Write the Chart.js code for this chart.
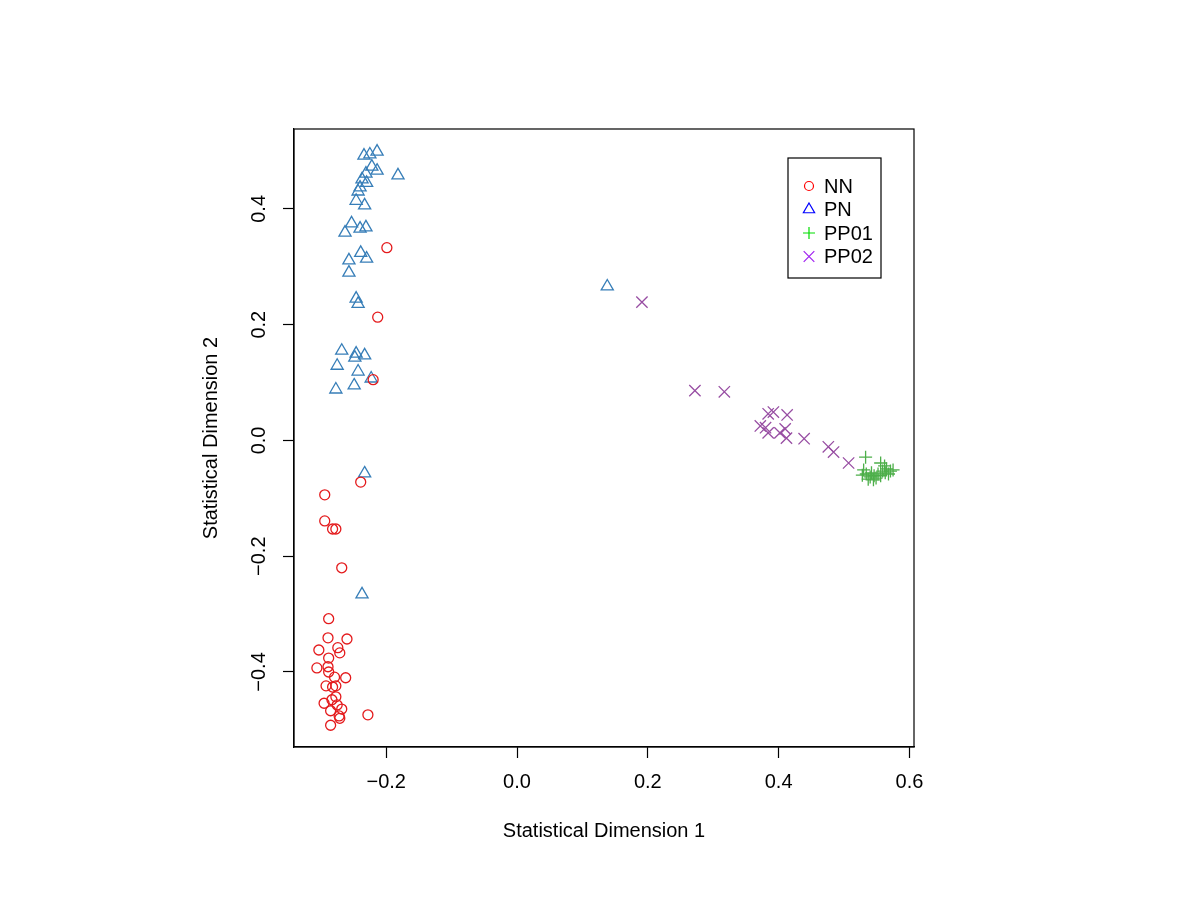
<!DOCTYPE html>
<html>
<head>
<meta charset="utf-8">
<title>Statistical Dimensions</title>
<script src="https://cdn.jsdelivr.net/npm/chart.js@4/dist/chart.umd.min.js"></script>
<style>
  body { margin: 0; background: #fff; }
  canvas { display: block; }
</style>
</head>
<body>
<canvas id="mdsChart" width="1200" height="900"></canvas>
<script>
// values
const seriesNames = ['NN', 'PN', 'PP01', 'PP02'];
const xTicks = [-0.2, 0.0, 0.2, 0.4, 0.6];
const yTicks = [-0.4, -0.2, 0.0, 0.2, 0.4];

const nnPoints = [
    [-0.199, 0.333], [-0.213, 0.213], [-0.220, 0.105], [-0.239, -0.072],
    [-0.294, -0.094], [-0.294, -0.139], [-0.282, -0.153], [-0.277, -0.153],
    [-0.268, -0.220], [-0.288, -0.308], [-0.289, -0.341], [-0.260, -0.343],
    [-0.303, -0.362], [-0.274, -0.358], [-0.271, -0.367], [-0.288, -0.376],
    [-0.306, -0.393], [-0.289, -0.391], [-0.288, -0.400], [-0.279, -0.409],
    [-0.262, -0.410], [-0.292, -0.424], [-0.282, -0.426], [-0.277, -0.424],
    [-0.277, -0.443], [-0.295, -0.454], [-0.283, -0.448], [-0.275, -0.457],
    [-0.268, -0.464], [-0.285, -0.467], [-0.272, -0.476], [-0.271, -0.480],
    [-0.228, -0.474], [-0.285, -0.492]
];

const pnPoints = [
    [-0.234, 0.492], [-0.225, 0.494], [-0.214, 0.499], [-0.222, 0.473],
    [-0.214, 0.466], [-0.182, 0.458], [-0.231, 0.461], [-0.237, 0.451],
    [-0.230, 0.445], [-0.240, 0.437], [-0.243, 0.430], [-0.246, 0.414],
    [-0.233, 0.406], [-0.253, 0.375], [-0.263, 0.359], [-0.240, 0.366],
    [-0.231, 0.368], [-0.239, 0.324], [-0.257, 0.311], [-0.230, 0.314],
    [-0.257, 0.290], [-0.246, 0.245], [-0.243, 0.236], [-0.268, 0.155],
    [-0.246, 0.150], [-0.248, 0.143], [-0.233, 0.147], [-0.275, 0.129],
    [-0.243, 0.119], [-0.223, 0.107], [-0.249, 0.095], [-0.277, 0.088],
    [-0.233, -0.057], [-0.237, -0.266], [0.138, 0.266]
];

const pp01Points = [
    [0.533, -0.029], [0.556, -0.039], [0.562, -0.044], [0.571, -0.053],
    [0.530, -0.051], [0.534, -0.058], [0.540, -0.063], [0.546, -0.061],
    [0.552, -0.058], [0.559, -0.053], [0.565, -0.049], [0.537, -0.067],
    [0.545, -0.068], [0.549, -0.065], [0.556, -0.061], [0.563, -0.056],
    [0.542, -0.056], [0.528, -0.060], [0.568, -0.058], [0.575, -0.051]
];

const pp02Points = [
    [0.191, 0.239], [0.272, 0.086], [0.317, 0.084], [0.384, 0.046],
    [0.392, 0.049], [0.413, 0.044], [0.372, 0.025], [0.380, 0.022],
    [0.384, 0.013], [0.402, 0.013], [0.410, 0.020], [0.412, 0.004],
    [0.439, 0.003], [0.476, -0.011], [0.484, -0.020], [0.507, -0.039]
];

const pointColors = ['#E41A1C', '#377EB8', '#4DAF4A', '#984EA3'];
const legendColors = ['#FF0000', '#0000FF', '#00DD00', '#A020F0'];
const pointStyles = ['circle', 'triangle', 'cross', 'crossRot'];
const pointSizes = [5, 7, 6.5, 8];

const FONT = '"Liberation Sans", Arial, Helvetica, sans-serif';

function toXY(list) {
    return list.map(function(p) { return { x: p[0], y: p[1] }; });
}

function fmtTick(v) {
    return v.toFixed(1).replace('-', '\u2212');
}

// closes the plot frame on all four sides
const frameBox = {
    id: 'frameBox',
    afterDraw(chart) {
        const a = chart.chartArea;
        const ctx = chart.ctx;
        ctx.save();
        ctx.strokeStyle = '#000';
        ctx.lineWidth = 1.2;
        ctx.strokeRect(a.left, a.top, a.right - a.left, a.bottom - a.top);
        ctx.restore();
    }
};

// R-style legend box inside the plot
const insetLegend = {
    id: 'insetLegend',
    afterDraw(chart) {
        const ctx = chart.ctx;
        const boxX = 788, boxY = 158, boxW = 93, boxH = 120;
        ctx.save();
        ctx.fillStyle = '#fff';
        ctx.fillRect(boxX, boxY, boxW, boxH);
        ctx.strokeStyle = '#000';
        ctx.lineWidth = 1.2;
        ctx.strokeRect(boxX, boxY, boxW, boxH);
        ctx.font = '20px ' + FONT;
        ctx.textBaseline = 'middle';
        ctx.textAlign = 'left';
        seriesNames.forEach(function(name, i) {
            const y = boxY + 28 + i * 23.5;
            ctx.strokeStyle = legendColors[i];
            ctx.fillStyle = 'rgba(0,0,0,0)';
            ctx.lineWidth = 1.2;
            Chart.helpers.drawPoint(ctx, {
                pointStyle: pointStyles[i],
                radius: i === 1 ? 6.5 : pointSizes[i] - 0.5,
                rotation: 0,
                borderWidth: 1.2
            }, boxX + 21, y);
            ctx.fillStyle = '#000';
            ctx.fillText(name, boxX + 36, y + 1);
        });
        ctx.restore();
    }
};

function makeDataset(i, list) {
    return {
        label: seriesNames[i],
        data: toXY(list),
        pointStyle: pointStyles[i],
        pointRadius: pointSizes[i],
        pointHoverRadius: pointSizes[i],
        pointBorderColor: pointColors[i],
        pointBackgroundColor: 'rgba(0,0,0,0)',
        pointBorderWidth: 1.3,
        showLine: false
    };
}

const ctx = document.getElementById('mdsChart').getContext('2d');
const mdsChart = new Chart(ctx, {
    type: 'scatter',
    data: {
        datasets: [
            makeDataset(0, nnPoints),
            makeDataset(1, pnPoints),
            makeDataset(2, pp01Points),
            makeDataset(3, pp02Points)
        ]
    },
    options: {
        responsive: false,
        animation: false,
        layout: {
            padding: { left: 190, top: 129, right: 286, bottom: 0 }
        },
        plugins: {
            legend: { display: false },
            tooltip: { enabled: false }
        },
        scales: {
            x: {
                type: 'linear',
                min: -0.341,
                max: 0.607,
                afterFit: function(scale) { scale.height = 153; },
                afterBuildTicks: function(scale) {
                    scale.ticks = xTicks.map(function(v) { return { value: v }; });
                },
                grid: {
                    drawOnChartArea: false,
                    drawTicks: true,
                    tickLength: 11,
                    tickWidth: 1.2,
                    tickColor: '#000'
                },
                border: { display: true, color: '#000', width: 1.2 },
                ticks: {
                    color: '#000',
                    padding: 12,
                    maxRotation: 0,
                    autoSkip: false,
                    font: { family: FONT, size: 20 },
                    callback: function(v) { return fmtTick(v); }
                },
                title: {
                    display: true,
                    text: 'Statistical Dimension 1',
                    color: '#000',
                    font: { family: FONT, size: 20 },
                    padding: { top: 0, bottom: 57 }
                }
            },
            y: {
                type: 'linear',
                min: -0.5296,
                max: 0.538,
                afterFit: function(scale) { scale.width = 104; },
                afterBuildTicks: function(scale) {
                    scale.ticks = yTicks.map(function(v) { return { value: v }; });
                },
                grid: {
                    drawOnChartArea: false,
                    drawTicks: true,
                    tickLength: 11,
                    tickWidth: 1.2,
                    tickColor: '#000'
                },
                border: { display: true, color: '#000', width: 1.2 },
                ticks: {
                    color: '#000',
                    padding: 4,
                    minRotation: 90,
                    maxRotation: 90,
                    crossAlign: 'center',
                    autoSkip: false,
                    font: { family: FONT, size: 20 },
                    callback: function(v) { return fmtTick(v); }
                },
                title: {
                    display: true,
                    text: 'Statistical Dimension 2',
                    color: '#000',
                    font: { family: FONT, size: 20 },
                    padding: { top: 9, bottom: 0 }
                }
            }
        }
    },
    plugins: [frameBox, insetLegend]
});
</script>
</body>
</html>
